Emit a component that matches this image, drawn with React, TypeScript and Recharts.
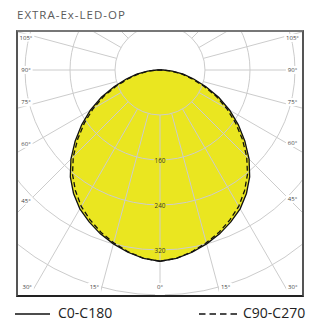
import React from 'react';
import { RadarChart, Radar, PolarGrid, PolarAngleAxis, PolarRadiusAxis } from 'recharts';

// gamma angle, degrees from nadir, 5° steps all the way round
const gammas = [
  0, 5, 10, 15, 20, 25, 30, 35, 40, 45, 50, 55, 60, 65, 70, 75, 80, 85,
  90, 95, 100, 105, 110, 115, 120, 125, 130, 135, 140, 145, 150, 155, 160, 165, 170, 175,
  180, 185, 190, 195, 200, 205, 210, 215, 220, 225, 230, 235, 240, 245, 250, 255, 260, 265,
  270, 275, 280, 285, 290, 295, 300, 305, 310, 315, 320, 325, 330, 335, 340, 345, 350, 355,
];

// intensity per half plane, gamma 0..180 in 5° steps
const c0 = [340, 336, 329, 320, 310, 298, 285, 268, 248, 224, 197, 170, 143, 115, 87, 62, 42, 22, 6,
  0, 0, 0, 0, 0, 0, 0, 0, 0, 0, 0, 0, 0, 0, 0, 0, 0, 0];
const c180 = [340, 336, 329, 320, 310, 298, 285, 268, 248, 224, 197, 170, 143, 115, 87, 62, 42, 22, 6,
  0, 0, 0, 0, 0, 0, 0, 0, 0, 0, 0, 0, 0, 0, 0, 0, 0, 0];
const c90 = [340, 336, 328, 318, 307, 294, 280, 262, 242, 218, 191, 164, 137, 110, 82, 57, 38, 19, 4,
  0, 0, 0, 0, 0, 0, 0, 0, 0, 0, 0, 0, 0, 0, 0, 0, 0, 0];
const c270 = [340, 336, 328, 318, 307, 294, 280, 262, 242, 218, 191, 164, 137, 110, 82, 57, 38, 19, 4,
  0, 0, 0, 0, 0, 0, 0, 0, 0, 0, 0, 0, 0, 0, 0, 0, 0, 0];

// grid spokes every 15°
const gridGammas = [0, 15, 30, 45, 60, 75, 90, 105, 120, 135, 150, 165, 180, 195, 210, 225, 240, 255, 270, 285, 300, 315, 330, 345];
const radiusLabels = [160, 240, 320];

const rows = gammas.map((g) => ({
  gamma: g,
  c0c180: g <= 180 ? c0[g / 5] : c180[(360 - g) / 5],
  c90c270: g <= 180 ? c90[g / 5] : c270[(360 - g) / 5],
}));
const gridRows = gridGammas.map((g) => ({ gamma: g }));

const W = 284;
const H = 263;
const CX = 142;
const CY = 38;
const OUTER = 270;
const INNER = 45;
const YELLOW = '#EAE620';
const FONT = '"Open Sans", sans-serif';

// where angle labels sit inside the frame
const LABEL_LEFT = 8;
const LABEL_RIGHT = 274.5;
const LABEL_BOTTOM = 255;

const AngleTick = (props: any) => {
  const g = Number(props.payload?.value);
  if (g > 105 && g < 255) return <g />;
  const rad = (g * Math.PI) / 180;
  const dx = Math.round(-Math.sin(rad) * 1e6) / 1e6;
  const dy = Math.round(Math.cos(rad) * 1e6) / 1e6;
  let t = Infinity;
  let bottom = false;
  if (dx < 0) t = Math.min(t, (LABEL_LEFT - CX) / dx);
  if (dx > 0) t = Math.min(t, (LABEL_RIGHT - CX) / dx);
  if (dy > 0) {
    const tb = (LABEL_BOTTOM - CY) / dy;
    if (tb < t) {
      t = tb;
      bottom = true;
    }
  }
  let x = CX + t * dx;
  let y = CY + t * dy;
  if (bottom) x += Math.sign(dx) * 7.5;
  else y -= Math.sign(dy) * 3.5;
  const label = `${g <= 180 ? g : 360 - g}°`;
  const w = label.length * 3.4;
  let rx = x - w / 2 - 1.5;
  let rw = w + 3;
  const ry = y - 4;
  let rh = 8;
  if (bottom) rh = H - ry + 2;
  else if (dx < 0) {
    rw = rx + rw + 2;
    rx = -2;
  } else {
    rw = W - rx + 2;
  }
  return (
    <g>
      <rect x={rx} y={ry} width={rw} height={rh} fill="#fff" />
      <text x={x} y={y} textAnchor="middle" dominantBaseline="central" fontSize={6} fill="#444" fontFamily={FONT}>
        {label}
      </text>
    </g>
  );
};

const RadiusTick = (props: any) => {
  const v = Number(props.payload?.value);
  if (!radiusLabels.includes(v)) return <g />;
  return (
    <g>
      <rect x={props.x - 6} y={props.y - 3} width={12} height={6} fill={YELLOW} />
      <text x={props.x} y={props.y} textAnchor="middle" dominantBaseline="central" fontSize={6.3} fill="#333" fontFamily={FONT}>
        {v}
      </text>
    </g>
  );
};

const layerStyle: React.CSSProperties = { position: 'absolute', left: 0, top: 0 };
const noMargin = { top: 0, right: 0, bottom: 0, left: 0 };

export default function App() {
  return (
    <div style={{ position: 'fixed', left: 0, top: 0, width: 316, height: 322, background: '#fff', fontFamily: FONT }}>
      <div style={{ position: 'absolute', left: 17, top: 7, fontSize: 11.5, lineHeight: '16px', letterSpacing: 1.0, color: '#5a5a5a' }}>
        EXTRA-Ex-LED-OP
      </div>

      <div
        style={{
          position: 'absolute', left: 16, top: 30, width: 288, height: 267, boxSizing: 'border-box',
          borderTop: '2px solid #777', borderLeft: '2px solid #555', borderRight: '2px solid #555', borderBottom: '2px solid #222',
          overflow: 'hidden',
        }}
      >
        {/* yellow fill of C0-C180 */}
        <div style={layerStyle}>
          <RadarChart width={W} height={H} data={rows} cx={CX} cy={CY} outerRadius={OUTER} startAngle={-90} endAngle={-450} margin={noMargin}>
            <PolarAngleAxis dataKey="gamma" tick={false} axisLine={false} tickLine={false} />
            <PolarRadiusAxis domain={[0, 480]} tick={false} axisLine={false} tickLine={false} />
            <Radar dataKey="c0c180" fill={YELLOW} fillOpacity={1} stroke="none" isAnimationActive={false} />
          </RadarChart>
        </div>

        {/* grid and labels */}
        <div style={layerStyle}>
          <RadarChart width={W} height={H} data={gridRows} cx={CX} cy={CY} innerRadius={INNER} outerRadius={OUTER} startAngle={-90} endAngle={-450} margin={noMargin}>
            <PolarGrid gridType="circle" stroke="#cccccc" strokeWidth={1} />
            <PolarAngleAxis dataKey="gamma" tick={AngleTick} axisLine={false} tickLine={false} />
            <PolarRadiusAxis angle={-90} domain={[80, 480]} tickCount={6} allowDataOverflow tick={RadiusTick} axisLine={false} tickLine={false} />
          </RadarChart>
        </div>

        {/* curves */}
        <div style={layerStyle}>
          <RadarChart width={W} height={H} data={rows} cx={CX} cy={CY} outerRadius={OUTER} startAngle={-90} endAngle={-450} margin={noMargin}>
            <PolarAngleAxis dataKey="gamma" tick={false} axisLine={false} tickLine={false} />
            <PolarRadiusAxis domain={[0, 480]} tick={false} axisLine={false} tickLine={false} />
            <Radar name="C0-C180" dataKey="c0c180" fill="none" stroke="#111" strokeWidth={1.3} isAnimationActive={false} />
            <Radar name="C90-C270" dataKey="c90c270" fill="none" stroke="#111" strokeWidth={1.3} strokeDasharray="5 3" isAnimationActive={false} />
          </RadarChart>
        </div>
      </div>

      <svg width={316} height={20} style={{ position: 'absolute', left: 0, top: 304 }}>
        <line x1={15} x2={50} y1={10} y2={10} stroke="#111" strokeWidth={1.3} />
        <line x1={199} x2={237} y1={10} y2={10} stroke="#111" strokeWidth={1.3} strokeDasharray="6.5 4" />
      </svg>
      <div style={{ position: 'absolute', left: 58, top: 304, fontSize: 14, lineHeight: '18px', color: '#222' }}>C0-C180</div>
      <div style={{ position: 'absolute', left: 243, top: 304, fontSize: 14, lineHeight: '18px', color: '#222' }}>C90-C270</div>
    </div>
  );
}
